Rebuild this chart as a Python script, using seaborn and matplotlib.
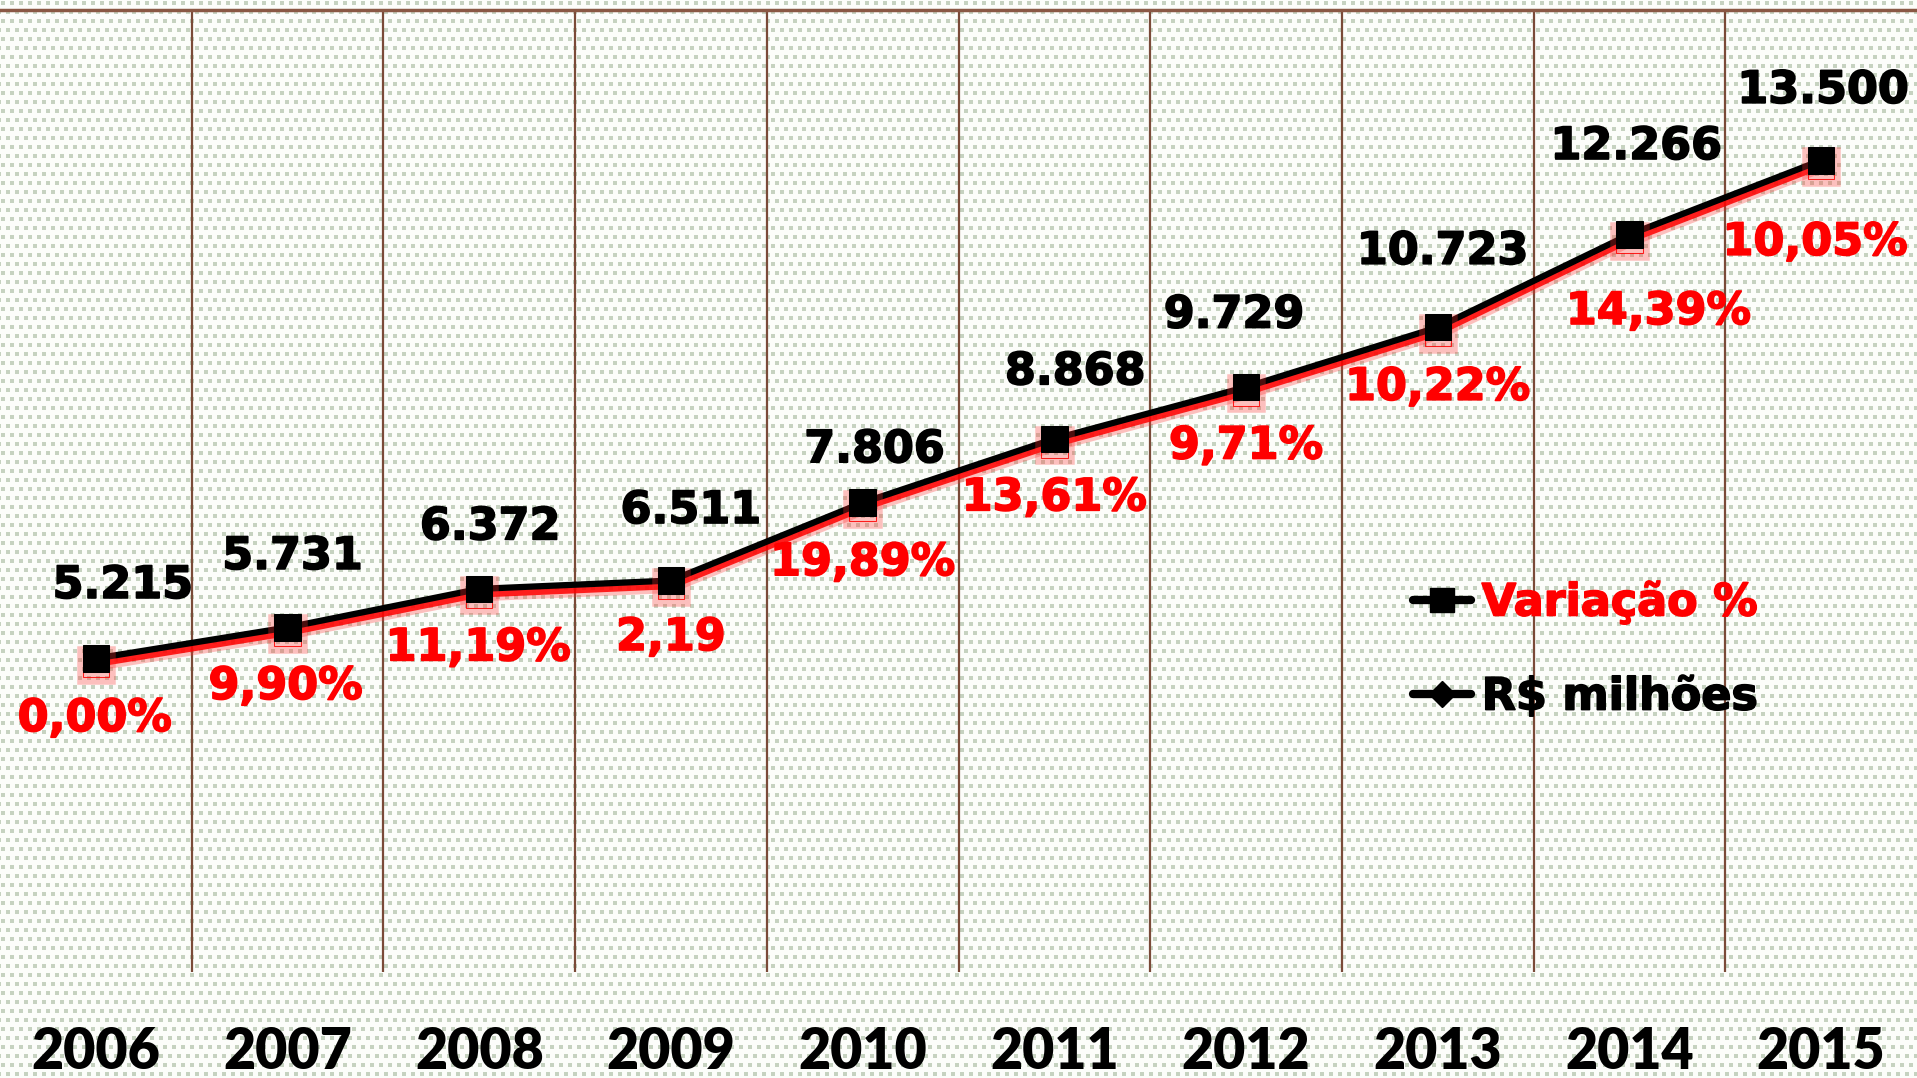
import numpy as np
import seaborn as sns
import matplotlib.pyplot as plt
import matplotlib.patheffects as pe
from matplotlib.lines import Line2D

# data
years = ["2006", "2007", "2008", "2009", "2010", "2011", "2012", "2013", "2014", "2015"]
valores = [5215, 5731, 6372, 6511, 7806, 8868, 9729, 10723, 12266, 13500]
variacao = ["0,00%", "9,90%", "11,19%", "2,19", "19,89%", "13,61%", "9,71%", "10,22%", "14,39%", "10,05%"]

# label offsets (pixels) - layout only
val_off = [(27, 73), (5, 71), (11, 62), (20, 70), (12, 53), (21, 67), (-12, 72), (5, 76), (7, 88), (2, 70)]
pct_off = [(-1, -60), (-2, -59), (-1, -59), (0, -57), (0, -60), (0, -59), (0, -59), (0, -60), (29, -77), (-6, -82)]

W, H = 1917, 1078
fig = plt.figure(figsize=(W / 100, H / 100), dpi=100)

# textured background (soft square dots)
yy, xx = np.mgrid[0:H, 0:W]
p = 9
shift = ((yy // p) % 2) * 4
cx = (xx + shift) % p
cy = yy % p
core = (cx >= 1) & (cx <= 4) & (cy >= 1) & (cy <= 4)
tex = np.ones((H, W, 3)) * np.array([252, 253, 250]) / 255
tex[core] = np.array([198, 210, 192]) / 255
bg = fig.add_axes([0, 0, 1, 1], zorder=-1)
bg.imshow(tex, aspect="auto", interpolation="nearest")
bg.axis("off")

top_px, bot_px = 10, 972
ax = fig.add_axes([0, (H - bot_px) / H, 1, (bot_px - top_px) / H])
ax.set_facecolor("none")

x = np.arange(len(years))
glow = [pe.SimpleLineShadow(offset=(0, -4.5), shadow_color="#ff3030", alpha=0.3, linewidth=9),
        pe.SimpleLineShadow(offset=(0, -4), shadow_color="#ff0000", alpha=0.85),
        pe.Normal()]
sns.lineplot(x=x, y=valores, ax=ax, color="black", linewidth=4.5, marker="s",
             markersize=19, markeredgecolor="black", path_effects=glow)

ax.set_xlim(-0.5, len(years) - 0.5)
ax.set_ylim(0, 16000)
ax.set_yticks([])
ax.set_xticks(x)
ax.set_xticklabels(years, fontsize=40, fontweight="heavy", family=["Lato", "DejaVu Sans"])
ax.set_xticks(x[:-1] + 0.5, minor=True)
ax.tick_params(axis="x", which="both", length=0, pad=39)
ax.grid(which="minor", axis="x", color="#7a4a38", linewidth=1.6)
ax.grid(which="major", visible=False)
ax.set_xlabel("")
for s in ["left", "right", "bottom"]:
    ax.spines[s].set_visible(False)
ax.spines["top"].set_color("#8a5844")
ax.spines["top"].set_linewidth(2.5)

def heavy(c):
    return [pe.withStroke(linewidth=1.2, foreground=c)]

for i, v in enumerate(valores):
    ax.annotate(f"{v:,}".replace(",", "."), (x[i], v), xytext=val_off[i], textcoords="offset pixels",
                ha="center", va="center", fontsize=32, fontweight="bold", color="black",
                path_effects=heavy("black"))
    ax.annotate(variacao[i], (x[i], v), xytext=pct_off[i], textcoords="offset pixels",
                ha="center", va="center", fontsize=32, fontweight="bold", color="#ff0000",
                path_effects=heavy("#ff0000"))

handles = [Line2D([], [], color="black", lw=6, marker="s", markersize=17, solid_capstyle="round"),
           Line2D([], [], color="black", lw=6, marker="D", markersize=13, solid_capstyle="round")]
leg = ax.legend(handles, ["Variação %", "R$ milhões"], loc="upper left", bbox_to_anchor=(0.737, 0.407),
                frameon=False, borderpad=0, borderaxespad=0, handlelength=1.3, handletextpad=0.25,
                labelspacing=1.15, prop={"size": 32, "weight": "bold"})
t0, t1 = leg.get_texts()
t0.set_color("#ff0000")
t0.set_path_effects(heavy("#ff0000"))
t1.set_path_effects(heavy("black"))

fig.savefig("out.png", dpi=100)
